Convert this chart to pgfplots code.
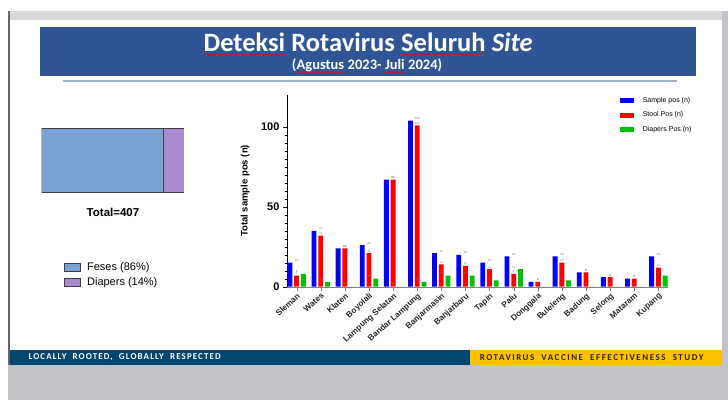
\documentclass[border=0pt]{standalone}
\usepackage{fontspec}
\setmainfont{Liberation Sans}
\newfontfamily\carlito{Carlito}
\usepackage{pgfplots}
\pgfplotsset{compat=1.18}
\usetikzlibrary{decorations.pathmorphing}
\newcommand\redwave[1]{\tikz[baseline=(w.base)]{\node[inner sep=0pt, outer sep=0pt, anchor=base](w) at (0,0){#1}; \draw[red, line width=0.4pt, decorate, decoration={snake, amplitude=0.7pt, segment length=2.2pt}] ([yshift=-3pt]w.base west) -- ([yshift=-3pt]w.base east);}}
\definecolor{banner}{HTML}{2F5597}
\definecolor{footblue}{HTML}{00466E}
\definecolor{footyellow}{HTML}{FFC000}
\definecolor{bggray}{HTML}{C2C4C8}
\definecolor{topgray}{HTML}{D9D9D9}
\definecolor{feses}{HTML}{7BA0D4}
\definecolor{diap}{HTML}{A78AD0}
\definecolor{barblue}{HTML}{0000FF}
\definecolor{barred}{HTML}{FF0000}
\definecolor{bargreen}{HTML}{00C000}
\begin{document}
\begin{tikzpicture}[x=1pt,y=1pt]
\useasboundingbox (0,0) rectangle (728,400);
\fill[white] (0,0) rectangle (728,400);
\fill[bggray] (8,0) rectangle (728,389);
\fill[topgray] (10,380) rectangle (722,389);
\fill[gray!80!black] (8,35) rectangle (10,389);
\fill[white] (10,35) rectangle (722,380);
\fill[footblue] (10,35) rectangle (470,50);
\fill[footyellow] (470,35) rectangle (722,50);
\node[anchor=west, text=white, font=\carlito\bfseries\fontsize{9}{9}\selectfont\addfontfeature{LetterSpace=12}] at (25,42.5) {LOCALLY\ \ ROOTED,\ \ GLOBALLY\ \ RESPECTED};
\node[anchor=east, text=black!85, font=\carlito\bfseries\fontsize{9}{9}\selectfont\addfontfeature{LetterSpace=17}] at (707,42.5) {ROTAVIRUS\ \ VACCINE\ \ EFFECTIVENESS\ \ STUDY};
% banner
\fill[banner] (40,324) rectangle (696,373);
\draw[color=banner!45!white, line width=1.3pt] (63,319) -- (677,319);
\node[text=white, font=\carlito\bfseries\fontsize{26.5}{26.5}\selectfont, inner sep=0pt] at (368,356) {\redwave{Deteksi} Rotavirus \redwave{Seluruh} \textit{Site}};
\node[text=white, font=\carlito\bfseries\fontsize{14.5}{14.5}\selectfont, inner sep=0pt] at (367,334) {(\redwave{Agustus} 2023- \redwave{Juli} 2024)};
% left stacked bar
\begin{axis}[at={(41.7pt,208pt)}, anchor=south west, scale only axis,
  width=142.3pt, height=64pt, xmin=0, xmax=407, ymin=-0.5, ymax=0.5,
  hide axis, xbar stacked, bar width=64pt,
  legend style={draw=none, fill=none, at={(axis description cs:0.152,-1.07)}, anchor=north west,
    font=\fontsize{11}{12}\selectfont, inner sep=0pt, row sep=1.5pt},
  legend cell align=left]
\addplot[fill=feses, draw=black!75, line width=0.6pt, legend image code/.code={\draw[fill=feses, draw=black!75, line width=0.6pt] (0pt,-4pt) rectangle (16pt,4pt);}] coordinates {(348,0)};
\addlegendentry{\hspace{5pt}Feses (86\%)}
\addplot[fill=diap, draw=black!75, line width=0.6pt, legend image code/.code={\draw[fill=diap, draw=black!75, line width=0.6pt] (0pt,-4pt) rectangle (16pt,4pt);}] coordinates {(59,0)};
\addlegendentry{\hspace{5pt}Diapers (14\%)}
\end{axis}
\node[font=\bfseries\fontsize{11.5}{11.5}\selectfont] at (113,188) {Total=407};
% main chart
\begin{axis}[at={(287pt,113.3pt)}, anchor=south west, scale only axis,
  width=381pt, height=191.7pt,
  xmin=-0.4, xmax=15.4, ymin=0, ymax=120,
  axis lines*=left, axis line style={-},
  x axis line style={draw=gray},
  xtick={0,...,15},
  xticklabels={Sleman,Wates,Klaten,Boyolali,Lampung Selatan,Bandar Lampung,Banjarmasin,Banjarbaru,Tapin,Palu,Donggala,Buleleng,Badung,Selong,Mataram,Kupang},
  x tick label style={rotate=42, anchor=north east, font=\bfseries\fontsize{8.2}{8.2}\selectfont, inner sep=1pt, text=black!85},
  ytick={0,50,100}, minor y tick num=9,
  tick align=outside, major tick length=4pt, minor tick length=2.5pt,
  x tick style={draw=gray}, y tick style={draw=black},
  y tick label style={font=\bfseries\fontsize{11}{11}\selectfont},
  /pgf/number format/assume math mode=true,
  ylabel={Total sample pos (n)},
  ylabel style={font=\bfseries\fontsize{9.5}{9.5}\selectfont, at={(axis description cs:-0.11,0.5)}, anchor=center},
  legend style={draw=none, fill=none, at={(axis description cs:0.873,1.0)}, anchor=north west,
    font=\fontsize{7}{8}\selectfont, row sep=4pt, inner sep=0pt},
  legend cell align=left,
  nodes near coords,
  every node near coord/.append style={font=\fontsize{3}{3}\selectfont, text=gray, inner sep=0.8pt},
  ]
\addplot[ybar, fill=barblue, draw=none, bar width=0.2, bar shift=-0.28,
  legend image code/.code={\fill[barblue] (0pt,-2.5pt) rectangle (14pt,2.5pt);}]
  coordinates {(0,15) (1,35) (2,24) (3,26) (4,67) (5,104) (6,21) (7,20) (8,15) (9,19) (10,3) (11,19) (12,9) (13,6) (14,5) (15,19)};
\addlegendentry{\hspace{7pt}Sample pos (n)}
\addplot[ybar, fill=barred, draw=none, bar width=0.2, bar shift=0,
  legend image code/.code={\fill[barred] (0pt,-2.5pt) rectangle (14pt,2.5pt);}]
  coordinates {(0,7) (1,32) (2,24) (3,21) (4,67) (5,101) (6,14) (7,13) (8,11) (9,8) (10,3) (11,15) (12,9) (13,6) (14,5) (15,12)};
\addlegendentry{\hspace{7pt}Stool Pos (n)}
\addplot[ybar, fill=bargreen, draw=none, bar width=0.2, bar shift=0.28,
  legend image code/.code={\fill[bargreen] (0pt,-2.5pt) rectangle (14pt,2.5pt);}]
  coordinates {(0,8) (1,3) (2,0) (3,5) (4,0) (5,3) (6,7) (7,7) (8,4) (9,11) (10,0) (11,4) (12,0) (13,0) (14,0) (15,7)};
\addlegendentry{\hspace{7pt}Diapers Pos (n)}
\end{axis}
\end{tikzpicture}
\end{document}
